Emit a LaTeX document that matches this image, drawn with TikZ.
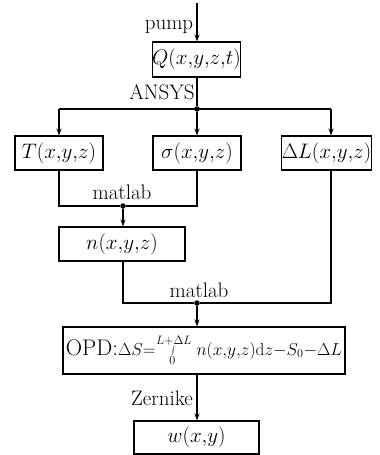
\RequirePackage{fix-cm}
\documentclass[tikz,border=0pt]{standalone}
\usetikzlibrary{arrows.meta}
\begin{document}
\begin{tikzpicture}[x=1pt,y=-1pt,
  box/.style={draw,line width=1.1pt,inner sep=0pt,font=\fontsize{21}{24}\selectfont},
  lbl/.style={inner sep=0pt,font=\fontsize{21}{24}\selectfont},
  ln/.style={line width=1.1pt},
  arr/.style={line width=1.1pt,-{Stealth[length=7pt,width=5pt]}},
  dot/.style={circle,fill,inner sep=0pt,minimum size=5.5pt}]
\useasboundingbox (0,0) rectangle (380,455);
\node[box,minimum width=87pt,minimum height=35pt] (Q) at (196.5,59.5) {$Q(x{,}y{,}z{,}t)$};
\node[box,minimum width=88pt,minimum height=34pt] (T) at (59,153) {$T(x{,}y{,}z)$};
\node[box,minimum width=88pt,minimum height=34pt] (S) at (197,153) {$\sigma(x{,}y{,}z)$};
\node[box,minimum width=89pt,minimum height=34pt] (D) at (326.5,153) {$\Delta L(x{,}y{,}z)$};
\node[box,minimum width=126pt,minimum height=34pt] (N) at (122,244) {$n(x{,}y{,}z)$};
\node[box,minimum width=282pt,minimum height=47pt,font=\fontsize{21}{24}\selectfont] (O) at (204,350.5) {\resizebox{276pt}{!}{\fontsize{21}{24}\selectfont\scalebox{1.3}{OPD:}$\Delta S{=}\!\int\limits_0^{L+\Delta L}\, n(x{,}y{,}z)\mathrm{d}z{-}S_0{-}\Delta L$}};
\node[box,minimum width=125pt,minimum height=33pt] (W) at (196.5,437.5) {$w(x{,}y)$};
\coordinate (top) at (197,3);
\node[dot] (j1) at (197,109) {};
\node[dot] (j2) at (123,206) {};
\node[dot] (j3) at (197,303) {};
\coordinate (a1) at (59,109);
\coordinate (a3) at (331,109);
\coordinate (b3) at (331,170);
\node[lbl] (pump) at (169,27) {pump};
\node[lbl] (ansys) at (162,92) {ANSYS};
\node[lbl] (m1) at (122,192) {matlab};
\node[lbl] (m2) at (199,290) {matlab};
\node[lbl] (zer) at (162,398) {Zernike};
\draw[arr] (top) -- (Q.north -| top);
\draw[ln] (Q.south -| j1) -- (j1);
\draw[ln] (a1) -- (a3);
\draw[arr] (a1) -- (T.north -| a1);
\draw[arr] (j1) -- (S.north -| j1);
\draw[arr] (a3) -- (D.north -| a3);
\draw[ln] (T.south) |- (j2) -| (S.south -| j1);
\draw[arr] (j2) -- (N.north -| j2);
\draw[ln] (N.south -| j2) |- (j3) -| (b3);
\draw[arr] (j3) -- (O.north -| j3);
\draw[arr] (O.south -| j3) -- (W.north -| j3);
\end{tikzpicture}
\end{document}
